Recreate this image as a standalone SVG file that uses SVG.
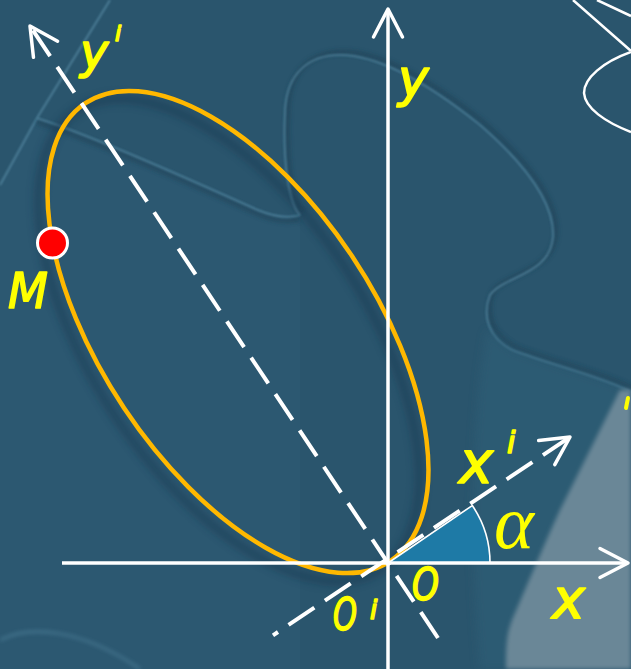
<svg xmlns="http://www.w3.org/2000/svg" width="631" height="669" viewBox="0 0 631 669">
<defs>
<style>
.lbl{font-family:"DejaVu Sans","Liberation Sans",sans-serif;font-style:italic;fill:#ffff00;stroke:#ffff00;stroke-width:1.6;stroke-linejoin:round}
.axis{stroke:#ffffff;stroke-width:3.5;fill:none}
.dash{stroke:#ffffff;stroke-width:4;fill:none;stroke-dasharray:31 12.7}
.edge{fill:none;stroke:#5f93ad;stroke-width:1.6;opacity:0.75}
.edgeDark{fill:none;stroke:#1c3e51;stroke-width:4;opacity:0.6}
</style>
<marker id="arr" markerUnits="userSpaceOnUse" markerWidth="40" markerHeight="40" viewBox="-35 -20 40 40" refX="0" refY="0" orient="auto" overflow="visible">
<path d="M-28,-14.5 L0,0 L-28,14.5" fill="none" stroke="#ffffff" stroke-width="3.5" stroke-linecap="round" stroke-linejoin="round" stroke-dasharray="none"/>
</marker>
<filter id="blur4" x="-20%" y="-20%" width="140%" height="140%"><feGaussianBlur stdDeviation="4"/></filter>
<filter id="blur2" x="-20%" y="-20%" width="140%" height="140%"><feGaussianBlur stdDeviation="2"/></filter>
<filter id="blur1" x="-20%" y="-20%" width="140%" height="140%"><feGaussianBlur stdDeviation="1"/></filter>
</defs>

<g id="background">
<rect x="0" y="0" width="631" height="669" fill="#2a556d"/>
<path d="M0,185 L37,118 C90,135 180,175 260,210 C275,216 290,217 300,215 L300,669 L0,669 Z" fill="#2e5c75" opacity="0.5"/>
<path d="M37,118 L110,0" class="edge" opacity="0.5" filter="url(#blur1)"/>
<path d="M0,185 L37,118" class="edge" filter="url(#blur1)"/>
<path d="M37,118 C90,135 180,175 258,210 C275,217 290,218 300,215" class="edgeDark" filter="url(#blur2)" transform="translate(0,4)"/>
<path d="M37,118 C90,135 180,175 258,210 C275,217 290,218 300,215" class="edge" filter="url(#blur1)"/>
<path d="M300,215 C286,200 283,150 285,110 C287,72 310,55 340,55 C380,55 430,85 480,125 C520,160 555,200 553,237 C550,275 505,275 490,295 C482,315 488,338 512,350 C550,365 600,376 631,392" class="edgeDark" filter="url(#blur2)" transform="translate(3,-3)"/>
<path d="M300,215 C286,200 283,150 285,110 C287,72 310,55 340,55 C380,55 430,85 480,125 C520,160 555,200 553,237 C550,275 505,275 490,295 C482,315 488,338 512,350 C550,365 600,376 631,392" class="edge" filter="url(#blur1)"/>
<path d="M512,350 C550,365 600,376 631,392 L631,669 L480,669 C470,560 470,420 487,330 Z" fill="#2f5e77" opacity="0.6" filter="url(#blur4)"/>
<path d="M620,390 C600,430 580,470 560,510 C543,547 525,590 512,620 C506,635 506,650 506,669 L631,669 L631,390 Z" fill="#6a8797" filter="url(#blur2)"/>
<path d="M0,640 C30,625 80,628 140,669" class="edge" opacity="0.45" filter="url(#blur2)"/>
<path d="M573,0 L631,51 M597,0 L631,16 M631,52 C603,62 584,78 584,93 C585,108 605,122 631,132" fill="none" stroke="#ffffff" stroke-width="2.5"/>
<path d="M628,398 L626,408" stroke="#ffff00" stroke-width="4" stroke-linecap="round"/>
</g>

<g id="ellipse">
<ellipse rx="275" ry="137" transform="translate(229,340) rotate(56.3)" fill="none" stroke="#16334a" stroke-width="7" opacity="0.55" filter="url(#blur4)"/>
<ellipse rx="275" ry="137" transform="translate(238,332) rotate(56.3)" fill="none" stroke="#ffb800" stroke-width="4.5"/>
</g>

<g id="angle-alpha">
<path d="M388,563 L490,563 A102,102 0 0,0 472.3,505.5 Z" fill="#1e7aa6"/>
<path d="M388,563 L472.3,505.5 A102,102 0 0,1 490,563" fill="none" stroke="#ffffff" stroke-width="1.6"/>
</g>

<g id="connectors">
<path id="x-axis" d="M62,563 L628,563" class="axis" marker-end="url(#arr)"/>
<path id="y-axis" d="M388,669 L388,9" class="axis" marker-end="url(#arr)"/>
<path id="x-prime-axis" d="M273,635.3 L570,437" class="dash" stroke-dashoffset="25" marker-end="url(#arr)"/>
<path id="y-prime-axis" d="M438,638 L30,26" class="dash" marker-end="url(#arr)"/>
</g>

<g id="point-M">
<circle cx="52.5" cy="243" r="15" fill="#ff0000" stroke="#ffffff" stroke-width="3"/>
<text class="lbl" x="8" y="308" font-size="50" textLength="40" lengthAdjust="spacingAndGlyphs">M</text>
</g>

<g id="labels">
<text class="lbl" x="398" y="96" font-size="52">y</text>
<text class="lbl" x="80" y="68" font-size="48">y</text>
<text class="lbl" x="115" y="41" font-size="22">i</text>
<text class="lbl" x="459" y="483" font-size="58">x</text>
<text class="lbl" x="507" y="453" font-size="30">i</text>
<text x="494" y="548" font-size="76" font-family="Liberation Serif, serif" font-style="italic" fill="#ffff00" textLength="40" lengthAdjust="spacingAndGlyphs">α</text>
<text class="lbl" x="412" y="600" font-size="45" textLength="27" lengthAdjust="spacingAndGlyphs">O</text>
<text class="lbl" x="333" y="630" font-size="45" textLength="24" lengthAdjust="spacingAndGlyphs">O</text>
<text class="lbl" x="370" y="619" font-size="26">i</text>
<text class="lbl" x="552" y="618" font-size="56">x</text>
</g>
</svg>
